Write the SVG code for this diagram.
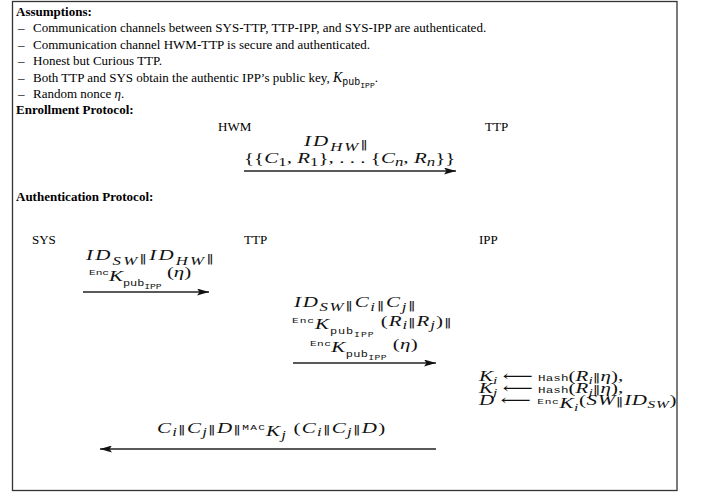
<svg xmlns="http://www.w3.org/2000/svg" width="701" height="492" viewBox="0 0 701 492">
<defs>
<style>
.t{font-family:"Liberation Serif","Times New Roman",serif;font-size:13px;fill:#000}
.b{font-weight:bold}
.m{font-family:"Liberation Serif","DejaVu Serif",serif;font-size:15px;fill:#111}
.i{font-style:italic}
.s{font-size:12px}
.tt{font-family:"Liberation Mono","Courier New",monospace}
.p{font-family:"DejaVu Sans",sans-serif;font-size:11px;font-style:normal;fill:#222}
.conn line{stroke:#222;stroke-width:1.3;fill:none}
</style>
<marker id="ah" markerUnits="userSpaceOnUse" markerWidth="12" markerHeight="7" refX="12" refY="3.5" orient="auto">
<path d="M0,0 L12,3.5 L0,7 L2.5,3.5 z" fill="#111"/>
</marker>
</defs>
<rect x="0" y="0" width="701" height="492" fill="#fff"/>
<rect x="12.5" y="1.5" width="664.5" height="489" fill="none" stroke="#333" stroke-width="1.3"/>

<g id="assumptions">
<text class="t b" x="16" y="16">Assumptions:</text>
<text class="t" x="18" y="32.4">–<tspan x="33">Communication channels between SYS-TTP, TTP-IPP, and SYS-IPP are authenticated.</tspan></text>
<text class="t" x="18" y="48.8">–<tspan x="33">Communication channel HWM-TTP is secure and authenticated.</tspan></text>
<text class="t" x="18" y="65.2">–<tspan x="33">Honest but Curious TTP.</tspan></text>
<text class="t" x="18" y="81.6">–<tspan x="33">Both TTP and SYS obtain the authentic IPP’s public key, </tspan><tspan class="i" font-size="14">K</tspan><tspan class="tt" font-size="10" y="85">pub</tspan><tspan class="tt" font-size="8" y="88">IPP</tspan><tspan y="81.6">.</tspan></text>
<text class="t" x="18" y="98">–<tspan x="33">Random nonce </tspan><tspan class="i">η</tspan>.</text>
</g>

<g id="enrollment">
<text class="t b" x="16" y="114.4">Enrollment Protocol:</text>
<g id="enr-hwm"><text class="t" x="218" y="131">HWM</text></g>
<g id="enr-ttp"><text class="t" x="485" y="131">TTP</text></g>
</g>

<g id="authentication">
<text class="t b" x="16" y="201">Authentication Protocol:</text>
<g id="auth-sys"><text class="t" x="32" y="244">SYS</text></g>
<g id="auth-ttp"><text class="t" x="244" y="244">TTP</text></g>
<g id="auth-ipp"><text class="t" x="479" y="244">IPP</text></g>
<g id="ipp-compute">
<text class="m" font-size="14" transform="translate(479 0) scale(1.4 1)" x="0" y="381" textLength="103" lengthAdjust="spacing"><tspan class="i">K</tspan><tspan class="i" font-size="11" y="384">i</tspan><tspan y="381"> ⟵ </tspan><tspan class="tt" font-size="9">Hash</tspan><tspan>(</tspan><tspan class="i">R</tspan><tspan class="i" font-size="11" y="384">i</tspan><tspan class="p" y="381">‖</tspan><tspan class="i">η</tspan><tspan>),</tspan></text>
<text class="m" font-size="14" transform="translate(479 0) scale(1.4 1)" x="0" y="393" textLength="103" lengthAdjust="spacing"><tspan class="i">K</tspan><tspan class="i" font-size="11" y="396">j</tspan><tspan y="393"> ⟵ </tspan><tspan class="tt" font-size="9">Hash</tspan><tspan>(</tspan><tspan class="i">R</tspan><tspan class="i" font-size="11" y="396">j</tspan><tspan class="p" y="393">‖</tspan><tspan class="i">η</tspan><tspan>),</tspan></text>
<text class="m" font-size="14" transform="translate(479 0) scale(1.4 1)" x="0" y="405" textLength="141" lengthAdjust="spacing"><tspan class="i">D</tspan><tspan> ⟵ </tspan><tspan class="tt" font-size="8" y="404">Enc</tspan><tspan class="i" y="408">K</tspan><tspan class="i" font-size="11" y="411">i</tspan><tspan y="405">(</tspan><tspan class="i">SW</tspan><tspan class="p">‖</tspan><tspan class="i">ID</tspan><tspan class="i" font-size="11" y="408">SW</tspan><tspan y="405">)</tspan></text>
</g>
</g>

<g id="connectors" class="conn">
<line x1="244" y1="171" x2="456" y2="171" marker-end="url(#ah)"/>
<line x1="83" y1="292" x2="209" y2="292" marker-end="url(#ah)"/>
<line x1="293" y1="363" x2="436" y2="363" marker-end="url(#ah)"/>
<line x1="436" y1="449" x2="100" y2="449" marker-end="url(#ah)"/>
</g>

<g id="labels">
<text class="m" transform="translate(304 0) scale(1.4 1)" x="0" y="146" textLength="45.7" lengthAdjust="spacing"><tspan class="i">ID</tspan><tspan class="i s" y="151">HW</tspan><tspan class="p" y="148">‖</tspan></text>
<text class="m" transform="translate(244 0) scale(1.4 1)" x="0" y="163" textLength="151" lengthAdjust="spacing"><tspan>{{</tspan><tspan class="i">C</tspan><tspan class="s" y="166">1</tspan><tspan y="163">, </tspan><tspan class="i">R</tspan><tspan class="s" y="166">1</tspan><tspan y="163">}, . . . {</tspan><tspan class="i">C</tspan><tspan class="i s" y="166">n</tspan><tspan y="163">, </tspan><tspan class="i">R</tspan><tspan class="i s" y="166">n</tspan><tspan y="163">}}</tspan></text>

<text class="m" transform="translate(86 0) scale(1.4 1)" x="0" y="260" textLength="91.4" lengthAdjust="spacing"><tspan class="i">ID</tspan><tspan class="i s" y="265">SW</tspan><tspan class="p" y="262">‖</tspan><tspan class="i" y="260">ID</tspan><tspan class="i s" y="265">HW</tspan><tspan class="p" y="262">‖</tspan></text>
<text class="m" transform="translate(89 0) scale(1.4 1)" x="0" y="275" textLength="73" lengthAdjust="spacing"><tspan class="tt" font-size="8">Enc</tspan><tspan class="i" y="281">K</tspan><tspan class="tt" font-size="8.5" y="286">pub</tspan><tspan class="tt" font-size="7" y="289">IPP</tspan><tspan y="277"> (</tspan><tspan class="i">η</tspan><tspan>)</tspan></text>

<text class="m" transform="translate(294 0) scale(1.4 1)" x="0" y="307" textLength="87" lengthAdjust="spacing"><tspan class="i">ID</tspan><tspan class="i s" y="311">SW</tspan><tspan class="p" y="309">‖</tspan><tspan class="i" y="307">C</tspan><tspan class="i s" y="311">i</tspan><tspan class="p" y="309">‖</tspan><tspan class="i" y="307">C</tspan><tspan class="i s" y="311">j</tspan><tspan class="p" y="309">‖</tspan></text>
<text class="m" transform="translate(292 0) scale(1.4 1)" x="0" y="323" textLength="114" lengthAdjust="spacing"><tspan class="tt" font-size="8">Enc</tspan><tspan class="i" y="329">K</tspan><tspan class="tt" font-size="8.5" y="334">pub</tspan><tspan class="tt" font-size="7" y="337">IPP</tspan><tspan y="326"> (</tspan><tspan class="i">R</tspan><tspan class="i s" y="329">i</tspan><tspan class="p" y="326">‖</tspan><tspan class="i">R</tspan><tspan class="i s" y="329">j</tspan><tspan y="326">)</tspan><tspan class="p">‖</tspan></text>
<text class="m" transform="translate(310 0) scale(1.4 1)" x="0" y="346" textLength="77" lengthAdjust="spacing"><tspan class="tt" font-size="8">Enc</tspan><tspan class="i" y="352">K</tspan><tspan class="tt" font-size="8.5" y="357">pub</tspan><tspan class="tt" font-size="7" y="360">IPP</tspan><tspan y="349"> (</tspan><tspan class="i">η</tspan><tspan>)</tspan></text>

<text class="m" transform="translate(157 0) scale(1.4 1)" x="0" y="433" textLength="163" lengthAdjust="spacing"><tspan class="i">C</tspan><tspan class="i s" y="436">i</tspan><tspan class="p" y="433">‖</tspan><tspan class="i">C</tspan><tspan class="i s" y="436">j</tspan><tspan class="p" y="433">‖</tspan><tspan class="i">D</tspan><tspan class="p">‖</tspan><tspan class="tt" font-size="8" y="430">MAC</tspan><tspan class="i" y="436">K</tspan><tspan class="i s" y="439">j</tspan><tspan y="433"> (</tspan><tspan class="i">C</tspan><tspan class="i s" y="436">i</tspan><tspan class="p" y="433">‖</tspan><tspan class="i">C</tspan><tspan class="i s" y="436">j</tspan><tspan class="p" y="433">‖</tspan><tspan class="i">D</tspan><tspan>)</tspan></text>
</g>
</svg>
